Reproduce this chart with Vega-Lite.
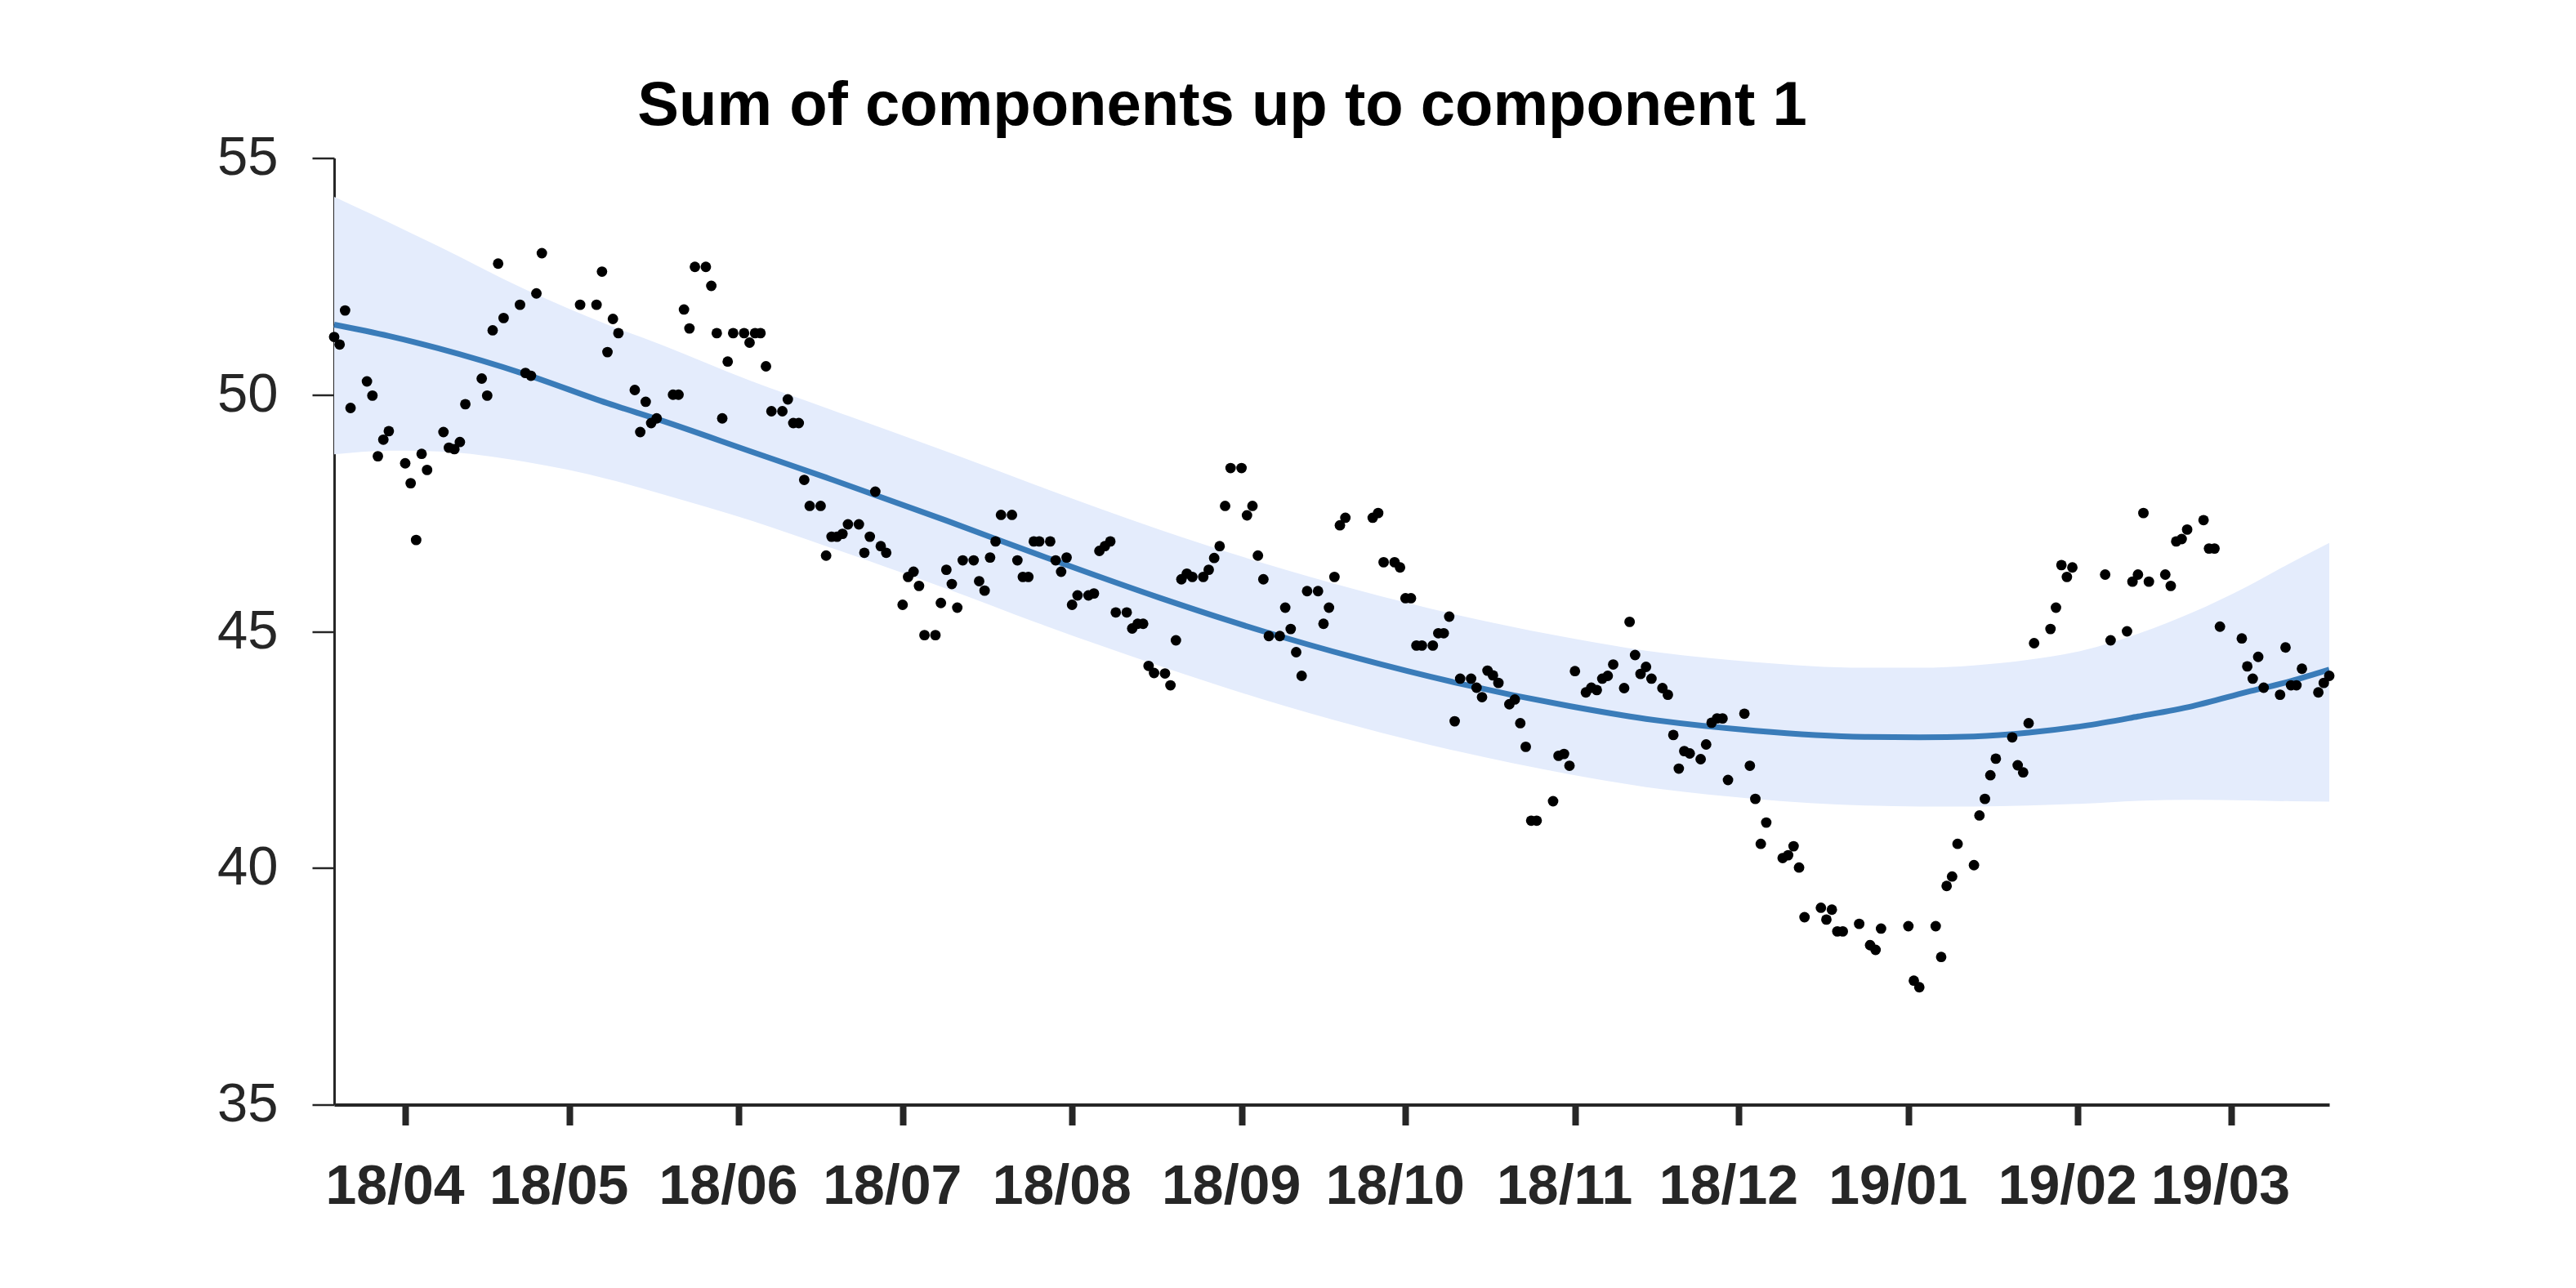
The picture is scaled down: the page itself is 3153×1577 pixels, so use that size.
{
  "$schema": "https://vega.github.io/schema/vega-lite/v6.json",
  "autosize": "none",
  "width": 2442,
  "height": 1159,
  "padding": {"left": 409, "top": 193.5, "right": 302, "bottom": 224.5},
  "background": "white",
  "config": {"view": {"stroke": null}},
  "title": {"text": "Sum of components up to component 1", "font": "Liberation Sans", "fontSize": 76, "fontWeight": "bold", "color": "black", "anchor": "middle", "frame": "group", "dx": -134, "baseline": "alphabetic", "offset": -69},
  "datasets": {
    "fit": [
      {"date": "2018-03-19", "mean": 51.48, "lower": 48.74, "upper": 54.18},
      {"date": "2018-03-29", "mean": 51.24, "lower": 48.82, "upper": 53.64},
      {"date": "2018-04-07", "mean": 50.98, "lower": 48.80, "upper": 53.14},
      {"date": "2018-04-23", "mean": 50.43, "lower": 48.58, "upper": 52.22},
      {"date": "2018-05-08", "mean": 49.82, "lower": 48.22, "upper": 51.48},
      {"date": "2018-05-18", "mean": 49.45, "lower": 47.90, "upper": 51.05},
      {"date": "2018-06-03", "mean": 48.81, "lower": 47.35, "upper": 50.30},
      {"date": "2018-06-17", "mean": 48.25, "lower": 46.80, "upper": 49.72},
      {"date": "2018-07-09", "mean": 47.34, "lower": 45.90, "upper": 48.80},
      {"date": "2018-07-27", "mean": 46.57, "lower": 45.12, "upper": 48.02},
      {"date": "2018-08-17", "mean": 45.71, "lower": 44.27, "upper": 47.15},
      {"date": "2018-09-05", "mean": 45.00, "lower": 43.56, "upper": 46.44},
      {"date": "2018-09-22", "mean": 44.44, "lower": 43.00, "upper": 45.88},
      {"date": "2018-10-10", "mean": 43.92, "lower": 42.48, "upper": 45.36},
      {"date": "2018-10-31", "mean": 43.42, "lower": 41.98, "upper": 44.86},
      {"date": "2018-11-14", "mean": 43.15, "lower": 41.71, "upper": 44.59},
      {"date": "2018-12-04", "mean": 42.90, "lower": 41.46, "upper": 44.35},
      {"date": "2018-12-24", "mean": 42.77, "lower": 41.32, "upper": 44.23},
      {"date": "2019-01-03", "mean": 42.76, "lower": 41.30, "upper": 44.23},
      {"date": "2019-01-13", "mean": 42.78, "lower": 41.30, "upper": 44.28},
      {"date": "2019-01-23", "mean": 42.86, "lower": 41.32, "upper": 44.40},
      {"date": "2019-02-02", "mean": 43.00, "lower": 41.36, "upper": 44.60},
      {"date": "2019-02-12", "mean": 43.20, "lower": 41.42, "upper": 44.95},
      {"date": "2019-02-22", "mean": 43.42, "lower": 41.44, "upper": 45.40},
      {"date": "2019-03-04", "mean": 43.72, "lower": 41.43, "upper": 45.95},
      {"date": "2019-03-12", "mean": 43.95, "lower": 41.41, "upper": 46.45},
      {"date": "2019-03-19", "mean": 44.19, "lower": 41.40, "upper": 46.87}
    ],
    "points": [
      {"date": "2018-03-19", "value": 51.22}, {"date": "2018-03-20", "value": 51.06}, {"date": "2018-03-21", "value": 51.78}, {"date": "2018-03-22", "value": 49.72},
      {"date": "2018-03-25", "value": 50.28}, {"date": "2018-03-26", "value": 49.98}, {"date": "2018-03-27", "value": 48.70}, {"date": "2018-03-28", "value": 49.05}, {"date": "2018-03-29", "value": 49.23},
      {"date": "2018-04-01", "value": 48.55}, {"date": "2018-04-02", "value": 48.13}, {"date": "2018-04-03", "value": 46.93}, {"date": "2018-04-04", "value": 48.75}, {"date": "2018-04-05", "value": 48.41},
      {"date": "2018-04-08", "value": 49.21}, {"date": "2018-04-09", "value": 48.88}, {"date": "2018-04-10", "value": 48.85}, {"date": "2018-04-11", "value": 49.00}, {"date": "2018-04-12", "value": 49.80},
      {"date": "2018-04-15", "value": 50.34}, {"date": "2018-04-16", "value": 49.98}, {"date": "2018-04-17", "value": 51.36}, {"date": "2018-04-18", "value": 52.77}, {"date": "2018-04-19", "value": 51.62},
      {"date": "2018-04-22", "value": 51.90}, {"date": "2018-04-23", "value": 50.46}, {"date": "2018-04-24", "value": 50.40}, {"date": "2018-04-25", "value": 52.14}, {"date": "2018-04-26", "value": 52.99},
      {"date": "2018-05-03", "value": 51.90}, {"date": "2018-05-06", "value": 51.90}, {"date": "2018-05-07", "value": 52.60}, {"date": "2018-05-08", "value": 50.90}, {"date": "2018-05-09", "value": 51.60}, {"date": "2018-05-10", "value": 51.30},
      {"date": "2018-05-13", "value": 50.10}, {"date": "2018-05-14", "value": 49.21}, {"date": "2018-05-15", "value": 49.85}, {"date": "2018-05-16", "value": 49.40}, {"date": "2018-05-17", "value": 49.50},
      {"date": "2018-05-20", "value": 50.00}, {"date": "2018-05-21", "value": 50.00}, {"date": "2018-05-22", "value": 51.80}, {"date": "2018-05-23", "value": 51.40}, {"date": "2018-05-24", "value": 52.70},
      {"date": "2018-05-26", "value": 52.70}, {"date": "2018-05-27", "value": 52.30}, {"date": "2018-05-28", "value": 51.30}, {"date": "2018-05-29", "value": 49.50}, {"date": "2018-05-30", "value": 50.70}, {"date": "2018-05-31", "value": 51.30},
      {"date": "2018-06-02", "value": 51.30}, {"date": "2018-06-03", "value": 51.10}, {"date": "2018-06-04", "value": 51.30}, {"date": "2018-06-05", "value": 51.30}, {"date": "2018-06-06", "value": 50.60}, {"date": "2018-06-07", "value": 49.65},
      {"date": "2018-06-09", "value": 49.65}, {"date": "2018-06-10", "value": 49.90}, {"date": "2018-06-11", "value": 49.40}, {"date": "2018-06-12", "value": 49.40}, {"date": "2018-06-13", "value": 48.20}, {"date": "2018-06-14", "value": 47.65},
      {"date": "2018-06-16", "value": 47.65}, {"date": "2018-06-17", "value": 46.60}, {"date": "2018-06-18", "value": 47.00}, {"date": "2018-06-19", "value": 47.00}, {"date": "2018-06-20", "value": 47.06}, {"date": "2018-06-21", "value": 47.26},
      {"date": "2018-06-23", "value": 47.26}, {"date": "2018-06-24", "value": 46.66}, {"date": "2018-06-25", "value": 47.00}, {"date": "2018-06-26", "value": 47.95}, {"date": "2018-06-27", "value": 46.80}, {"date": "2018-06-28", "value": 46.66},
      {"date": "2018-07-01", "value": 45.56}, {"date": "2018-07-02", "value": 46.15}, {"date": "2018-07-03", "value": 46.26}, {"date": "2018-07-04", "value": 45.96}, {"date": "2018-07-05", "value": 44.92},
      {"date": "2018-07-07", "value": 44.92}, {"date": "2018-07-08", "value": 45.60}, {"date": "2018-07-09", "value": 46.30}, {"date": "2018-07-10", "value": 46.00}, {"date": "2018-07-11", "value": 45.50}, {"date": "2018-07-12", "value": 46.50},
      {"date": "2018-07-14", "value": 46.50}, {"date": "2018-07-15", "value": 46.06}, {"date": "2018-07-16", "value": 45.86}, {"date": "2018-07-17", "value": 46.56}, {"date": "2018-07-18", "value": 46.90}, {"date": "2018-07-19", "value": 47.46},
      {"date": "2018-07-21", "value": 47.46}, {"date": "2018-07-22", "value": 46.50}, {"date": "2018-07-23", "value": 46.15}, {"date": "2018-07-24", "value": 46.15}, {"date": "2018-07-25", "value": 46.90}, {"date": "2018-07-26", "value": 46.90},
      {"date": "2018-07-28", "value": 46.90}, {"date": "2018-07-29", "value": 46.50}, {"date": "2018-07-30", "value": 46.26}, {"date": "2018-07-31", "value": 46.56}, {"date": "2018-08-01", "value": 45.56}, {"date": "2018-08-02", "value": 45.76},
      {"date": "2018-08-04", "value": 45.76}, {"date": "2018-08-05", "value": 45.80}, {"date": "2018-08-06", "value": 46.70}, {"date": "2018-08-07", "value": 46.80}, {"date": "2018-08-08", "value": 46.90}, {"date": "2018-08-09", "value": 45.40},
      {"date": "2018-08-11", "value": 45.40}, {"date": "2018-08-12", "value": 45.06}, {"date": "2018-08-13", "value": 45.16}, {"date": "2018-08-14", "value": 45.16}, {"date": "2018-08-15", "value": 44.27}, {"date": "2018-08-16", "value": 44.12},
      {"date": "2018-08-18", "value": 44.11}, {"date": "2018-08-19", "value": 43.86}, {"date": "2018-08-20", "value": 44.81}, {"date": "2018-08-21", "value": 46.10}, {"date": "2018-08-22", "value": 46.22}, {"date": "2018-08-23", "value": 46.15},
      {"date": "2018-08-25", "value": 46.15}, {"date": "2018-08-26", "value": 46.30}, {"date": "2018-08-27", "value": 46.55}, {"date": "2018-08-28", "value": 46.80}, {"date": "2018-08-29", "value": 47.65}, {"date": "2018-08-30", "value": 48.45},
      {"date": "2018-09-01", "value": 48.45}, {"date": "2018-09-02", "value": 47.45}, {"date": "2018-09-03", "value": 47.65}, {"date": "2018-09-04", "value": 46.60}, {"date": "2018-09-05", "value": 46.10}, {"date": "2018-09-06", "value": 44.90},
      {"date": "2018-09-08", "value": 44.90}, {"date": "2018-09-09", "value": 45.50}, {"date": "2018-09-10", "value": 45.05}, {"date": "2018-09-11", "value": 44.56}, {"date": "2018-09-12", "value": 44.06}, {"date": "2018-09-13", "value": 45.85},
      {"date": "2018-09-15", "value": 45.85}, {"date": "2018-09-16", "value": 45.16}, {"date": "2018-09-17", "value": 45.50}, {"date": "2018-09-18", "value": 46.15}, {"date": "2018-09-19", "value": 47.24}, {"date": "2018-09-20", "value": 47.40},
      {"date": "2018-09-25", "value": 47.40}, {"date": "2018-09-26", "value": 47.50}, {"date": "2018-09-27", "value": 46.46}, {"date": "2018-09-29", "value": 46.46}, {"date": "2018-09-30", "value": 46.35},
      {"date": "2018-10-01", "value": 45.70}, {"date": "2018-10-02", "value": 45.70}, {"date": "2018-10-03", "value": 44.70}, {"date": "2018-10-04", "value": 44.70},
      {"date": "2018-10-06", "value": 44.70}, {"date": "2018-10-07", "value": 44.96}, {"date": "2018-10-08", "value": 44.96}, {"date": "2018-10-09", "value": 45.31}, {"date": "2018-10-10", "value": 43.10}, {"date": "2018-10-11", "value": 44.00},
      {"date": "2018-10-13", "value": 44.00}, {"date": "2018-10-14", "value": 43.81}, {"date": "2018-10-15", "value": 43.61}, {"date": "2018-10-16", "value": 44.17}, {"date": "2018-10-17", "value": 44.07}, {"date": "2018-10-18", "value": 43.91},
      {"date": "2018-10-20", "value": 43.46}, {"date": "2018-10-21", "value": 43.56}, {"date": "2018-10-22", "value": 43.06}, {"date": "2018-10-23", "value": 42.56}, {"date": "2018-10-24", "value": 41.00}, {"date": "2018-10-25", "value": 41.00},
      {"date": "2018-10-28", "value": 41.41}, {"date": "2018-10-29", "value": 42.37}, {"date": "2018-10-30", "value": 42.41}, {"date": "2018-10-31", "value": 42.16}, {"date": "2018-11-01", "value": 44.16},
      {"date": "2018-11-03", "value": 43.71}, {"date": "2018-11-04", "value": 43.81}, {"date": "2018-11-05", "value": 43.76}, {"date": "2018-11-06", "value": 44.00}, {"date": "2018-11-07", "value": 44.06}, {"date": "2018-11-08", "value": 44.30},
      {"date": "2018-11-10", "value": 43.80}, {"date": "2018-11-11", "value": 45.20}, {"date": "2018-11-12", "value": 44.50}, {"date": "2018-11-13", "value": 44.10}, {"date": "2018-11-14", "value": 44.25}, {"date": "2018-11-15", "value": 44.00},
      {"date": "2018-11-17", "value": 43.80}, {"date": "2018-11-18", "value": 43.66}, {"date": "2018-11-19", "value": 42.81}, {"date": "2018-11-20", "value": 42.10}, {"date": "2018-11-21", "value": 42.47}, {"date": "2018-11-22", "value": 42.42},
      {"date": "2018-11-24", "value": 42.30}, {"date": "2018-11-25", "value": 42.61}, {"date": "2018-11-26", "value": 43.07}, {"date": "2018-11-27", "value": 43.16}, {"date": "2018-11-28", "value": 43.16}, {"date": "2018-11-29", "value": 41.86},
      {"date": "2018-12-02", "value": 43.26}, {"date": "2018-12-03", "value": 42.16}, {"date": "2018-12-04", "value": 41.46}, {"date": "2018-12-05", "value": 40.51}, {"date": "2018-12-06", "value": 40.96},
      {"date": "2018-12-09", "value": 40.21}, {"date": "2018-12-10", "value": 40.27}, {"date": "2018-12-11", "value": 40.46}, {"date": "2018-12-12", "value": 40.01}, {"date": "2018-12-13", "value": 38.96},
      {"date": "2018-12-16", "value": 39.16}, {"date": "2018-12-17", "value": 38.91}, {"date": "2018-12-18", "value": 39.12}, {"date": "2018-12-19", "value": 38.66}, {"date": "2018-12-20", "value": 38.66},
      {"date": "2018-12-23", "value": 38.82}, {"date": "2018-12-25", "value": 38.37}, {"date": "2018-12-26", "value": 38.27}, {"date": "2018-12-27", "value": 38.72},
      {"date": "2019-01-01", "value": 38.77}, {"date": "2019-01-02", "value": 37.62}, {"date": "2019-01-03", "value": 37.48},
      {"date": "2019-01-06", "value": 38.77}, {"date": "2019-01-07", "value": 38.12}, {"date": "2019-01-08", "value": 39.62}, {"date": "2019-01-09", "value": 39.82}, {"date": "2019-01-10", "value": 40.51},
      {"date": "2019-01-13", "value": 40.06}, {"date": "2019-01-14", "value": 41.11}, {"date": "2019-01-15", "value": 41.46}, {"date": "2019-01-16", "value": 41.96}, {"date": "2019-01-17", "value": 42.31},
      {"date": "2019-01-20", "value": 42.76}, {"date": "2019-01-21", "value": 42.17}, {"date": "2019-01-22", "value": 42.02}, {"date": "2019-01-23", "value": 43.06}, {"date": "2019-01-24", "value": 44.75},
      {"date": "2019-01-27", "value": 45.05}, {"date": "2019-01-28", "value": 45.50}, {"date": "2019-01-29", "value": 46.40}, {"date": "2019-01-30", "value": 46.15}, {"date": "2019-01-31", "value": 46.35},
      {"date": "2019-02-06", "value": 46.20}, {"date": "2019-02-07", "value": 44.81},
      {"date": "2019-02-10", "value": 45.00}, {"date": "2019-02-11", "value": 46.05}, {"date": "2019-02-12", "value": 46.20}, {"date": "2019-02-13", "value": 47.50}, {"date": "2019-02-14", "value": 46.05},
      {"date": "2019-02-17", "value": 46.20}, {"date": "2019-02-18", "value": 45.96}, {"date": "2019-02-19", "value": 46.90}, {"date": "2019-02-20", "value": 46.95}, {"date": "2019-02-21", "value": 47.15},
      {"date": "2019-02-24", "value": 47.35}, {"date": "2019-02-25", "value": 46.75}, {"date": "2019-02-26", "value": 46.75}, {"date": "2019-02-27", "value": 45.10},
      {"date": "2019-03-03", "value": 44.85}, {"date": "2019-03-04", "value": 44.26}, {"date": "2019-03-05", "value": 44.00}, {"date": "2019-03-06", "value": 44.46}, {"date": "2019-03-07", "value": 43.81},
      {"date": "2019-03-10", "value": 43.66}, {"date": "2019-03-11", "value": 44.66}, {"date": "2019-03-12", "value": 43.86}, {"date": "2019-03-13", "value": 43.86}, {"date": "2019-03-14", "value": 44.21},
      {"date": "2019-03-17", "value": 43.71}, {"date": "2019-03-18", "value": 43.91}, {"date": "2019-03-19", "value": 44.06}
    ]
  },
  "encoding": {
    "x": {
      "field": "date", "type": "temporal", "title": null,
      "scale": {"type": "utc", "domain": [{"year": 2018, "month": 3, "date": 19, "utc": true}, {"year": 2019, "month": 3, "date": 19, "utc": true}]},
      "axis": {
        "values": [
          {"year": 2018, "month": 4, "date": 1, "utc": true}, {"year": 2018, "month": 5, "date": 1, "utc": true}, {"year": 2018, "month": 6, "date": 1, "utc": true},
          {"year": 2018, "month": 7, "date": 1, "utc": true}, {"year": 2018, "month": 8, "date": 1, "utc": true}, {"year": 2018, "month": 9, "date": 1, "utc": true},
          {"year": 2018, "month": 10, "date": 1, "utc": true}, {"year": 2018, "month": 11, "date": 1, "utc": true}, {"year": 2018, "month": 12, "date": 1, "utc": true},
          {"year": 2019, "month": 1, "date": 1, "utc": true}, {"year": 2019, "month": 2, "date": 1, "utc": true}, {"year": 2019, "month": 3, "date": 1, "utc": true}
        ],
        "format": "%y/%m", "grid": false, "labelOverlap": false, "labelFlush": false,
        "labelFont": "Liberation Sans", "labelFontSize": 68, "labelFontWeight": "bold", "labelColor": "#262626",
        "labelPadding": 42, "labelOffset": -13,
        "domainColor": "#262626", "domainWidth": 4, "tickColor": "#262626", "tickWidth": 8, "tickSize": 25
      }
    }
  },
  "layer": [
    {
      "data": {"name": "fit"},
      "mark": {"type": "area", "color": "#e4ecfc", "opacity": 1, "interpolate": "monotone"},
      "encoding": {
        "y": {"field": "lower", "type": "quantitative", "title": null,
          "scale": {"domain": [35, 55], "nice": false, "zero": false},
          "axis": {"values": [35, 40, 45, 50, 55], "format": "d", "grid": false, "labelFont": "Liberation Sans", "labelFontSize": 67, "labelColor": "#262626", "labelPadding": 42,
            "domainColor": "#262626", "domainWidth": 3, "tickColor": "#262626", "tickWidth": 2.5, "tickSize": 27}},
        "y2": {"field": "upper"}
      }
    },
    {
      "data": {"name": "fit"},
      "mark": {"type": "line", "color": "#3a7cb9", "strokeWidth": 7, "interpolate": "monotone"},
      "encoding": {"y": {"field": "mean", "type": "quantitative"}}
    },
    {
      "data": {"name": "points"},
      "mark": {"type": "circle", "color": "black", "opacity": 1, "size": 165},
      "encoding": {"y": {"field": "value", "type": "quantitative"}}
    }
  ]
}
